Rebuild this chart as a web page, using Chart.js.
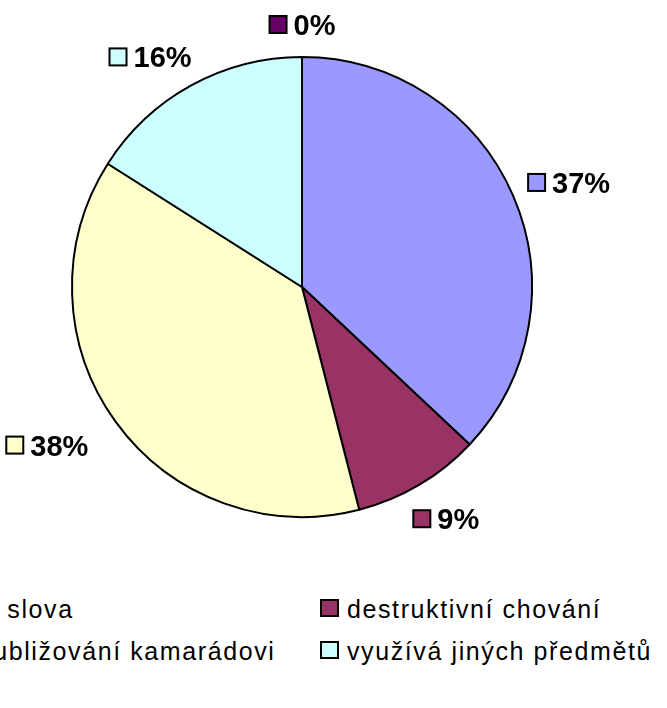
<!DOCTYPE html>
<html>
<head>
<meta charset="utf-8">
<script src="https://cdn.jsdelivr.net/npm/chart.js@4/dist/chart.umd.min.js"></script>
<style>
  body { margin: 0; width: 667px; height: 708px; overflow: hidden; background: #fff; position: relative; }
  #wrap { position: absolute; left: 0; top: 0; width: 667px; height: 570px; }
  .leg { position: absolute; font-family: "Liberation Sans", Arial, sans-serif; font-size: 25px; letter-spacing: 1.6px; color: #000; white-space: nowrap; line-height: 30px; height: 30px; }
  .leg span.box { position: absolute; left: 0; top: 5px; width: 15px; height: 14px; border: 2px solid #000; }
  .leg span.txt { position: absolute; left: 27px; top: 0; }
</style>
</head>
<body>
<div id="wrap"><canvas id="myChart" width="667" height="570"></canvas></div>
<div id="legend"></div>
<script>
// chart data
const categories = ['vulgární slova', 'destruktivní chování', 'fyzické ubližování kamarádovi', 'využívá jiných předmětů', 'jiné'];
const shares = [37, 9, 38, 16, 0];
const colors = ['#9999FF', '#993366', '#FFFFCC', '#CCFFFF', '#660066'];

// labels outside each slice: small colour box + bold percentage
const outsideLabels = {
  id: 'outsideLabels',
  afterDatasetsDraw(chart) {
    const ctx = chart.ctx;
    const meta = chart.getDatasetMeta(0);
    const data = chart.data.datasets[0].data;
    const total = data.reduce((a, b) => a + b, 0);
    ctx.save();
    ctx.font = 'bold 29px "Liberation Sans", Arial, sans-serif';
    ctx.textBaseline = 'alphabetic';
    meta.data.forEach((arc, i) => {
      const p = arc.getProps(['x', 'y', 'startAngle', 'endAngle', 'outerRadius'], true);
      const mid = (p.startAngle + p.endAngle) / 2;
      const dx = Math.cos(mid), dy = Math.sin(mid);
      const text = Math.round(data[i] / total * 100) + '%';
      const tw = ctx.measureText(text).width;
      const w = 19 + 6 + tw, h = 26;
      const ax = p.x + (p.outerRadius + 19) * dx;
      const ay = p.y + (p.outerRadius + 19) * dy;
      const cx = ax + dx * w / 2 * (dx < 0 ? 1.6 : 1);
      const cy = ay + dy * h / 2 * (dy > 0 ? 1.6 : 1);
      const left = cx - w / 2;
      ctx.fillStyle = colors[i];
      ctx.fillRect(left + 1, cy - 9, 17, 17);
      ctx.strokeStyle = '#000';
      ctx.lineWidth = 2;
      ctx.strokeRect(left + 1, cy - 9, 17, 17);
      ctx.fillStyle = '#000';
      ctx.textAlign = 'left';
      ctx.fillText(text, left + 25, cy + 10);
    });
    ctx.restore();
  }
};

const ctx = document.getElementById('myChart').getContext('2d');
const myChart = new Chart(ctx, {
  type: 'pie',
  data: {
    labels: categories,
    datasets: [{
      data: shares,
      backgroundColor: colors,
      borderColor: '#000',
      borderWidth: 2,
      hoverOffset: 0,
      offset: 0
    }]
  },
  options: {
    responsive: false,
    animation: false,
    events: [],
    layout: { padding: { left: 71, right: 134, top: 56, bottom: 52 } },
    plugins: {
      legend: { display: false },
      tooltip: { enabled: false }
    }
  },
  plugins: [outsideLabels]
});

// legend below the pie, two columns, left column cut off by the page edge
const legend = document.getElementById('legend');
const colX = [-130, 320];
const rowY = [594, 636];
categories.slice(0, 4).forEach((name, i) => {
  const item = document.createElement('div');
  item.className = 'leg';
  item.style.left = colX[i % 2] + 'px';
  item.style.top = rowY[Math.floor(i / 2)] + 'px';
  item.innerHTML = `<span class="box" style="background:${colors[i]}"></span><span class="txt">${name}</span>`;
  legend.appendChild(item);
});
</script>
</body>
</html>
